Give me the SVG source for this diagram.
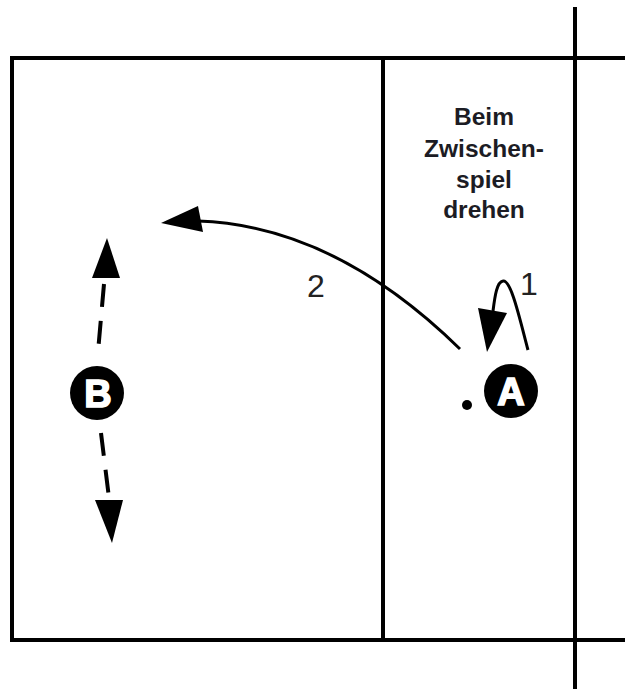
<svg xmlns="http://www.w3.org/2000/svg" width="625" height="689" viewBox="0 0 625 689">
<style>
.court{stroke:#000;stroke-width:4;fill:none}
.conn{stroke:#000;stroke-width:3;fill:none}
.dash{stroke:#000;stroke-width:4;fill:none;stroke-dasharray:23 14}
.head{fill:#000;stroke:none}
.player{fill:#000}
.plbl{fill:#fff;stroke:#fff;stroke-width:1.6;font-family:"Liberation Sans",Arial,sans-serif;font-weight:bold;font-size:38px;text-anchor:middle}
.note{fill:#1c1c24;font-family:"Liberation Sans",Arial,sans-serif;font-weight:bold;font-size:24.5px;text-anchor:middle}
.num{fill:#222;font-family:"Liberation Sans",Arial,sans-serif;font-size:32px;text-anchor:middle}
</style>
<rect width="625" height="689" fill="#fff"/>
<g id="court">
<path class="court" d="M12,58 H625 M12,640 H625 M12,56 V642 M383,58 V640 M575,7 V689"/>
</g>
<g id="connectors">
<path class="conn" d="M460,349 C410,300 320,225 198,221"/>
<polygon class="head" points="161,223 198,206 203,232"/>
<path class="conn" d="M528,350 C520,320 511,279 503,281 C497,282 495,295 493,311"/>
<polygon class="head" points="487,352 478,308 507,313"/>
<path class="dash" d="M104,284 L98,352"/>
<polygon class="head" points="107,238 92,278 120,278"/>
<path class="dash" d="M101,433 L109,498"/>
<polygon class="head" points="112,543 95,500 123,500"/>
<text class="num" x="316" y="297">2</text>
<text class="num" x="529" y="295">1</text>
</g>
<g id="node-A">
<circle class="player" cx="511" cy="391" r="27"/>
<text class="plbl" x="511" y="405">A</text>
<circle class="player" cx="467" cy="405" r="5"/>
</g>
<g id="node-B">
<circle class="player" cx="97" cy="393" r="27"/>
<text class="plbl" x="98" y="407">B</text>
</g>
<g id="note">
<text class="note" x="484" y="125">Beim</text>
<text class="note" x="484" y="157">Zwischen-</text>
<text class="note" x="484" y="188">spiel</text>
<text class="note" x="484" y="218">drehen</text>
</g>
</svg>
